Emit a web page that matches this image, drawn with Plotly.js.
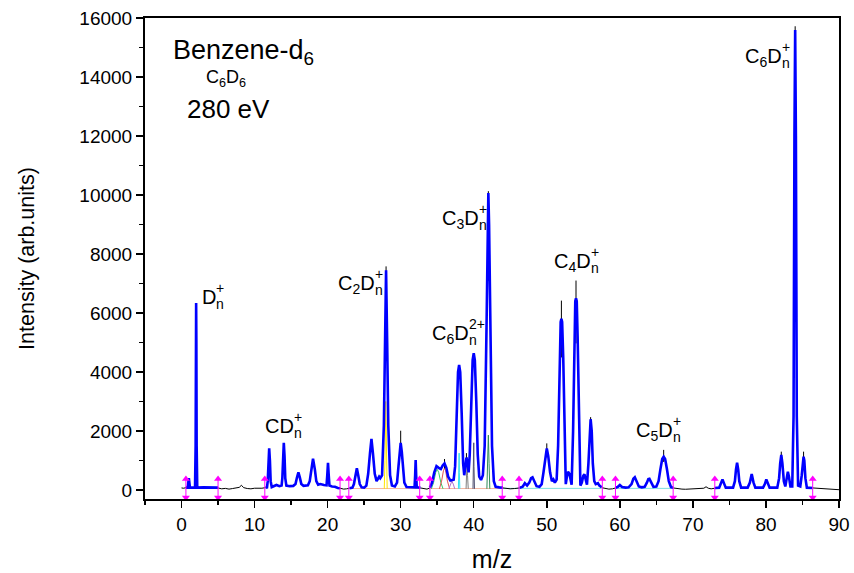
<!DOCTYPE html>
<html><head><meta charset="utf-8">
<script src="https://cdn.plot.ly/plotly-3.0.1.min.js"></script>
<style>html,body{margin:0;padding:0;background:#fff;} #chart{width:854px;height:573px;}</style>
</head><body><div id="chart"></div>
<script>
// ---- Fitted spectrum (blue), one pair of arrays per fit window ----
const fitMz1 = [0.6, 0.85, 0.95, 1.0, 1.05, 1.15, 1.85, 1.93, 1.97, 2.0, 2.03, 2.07, 2.15, 3.0, 4.0, 5.0];
const fitI1  = [80, 80, 300, 400, 300, 80, 80, 1500, 5000, 6340, 5000, 1500, 80, 90, 80, 80];

const fitMz2 = [11.5, 11.7, 11.8, 11.9, 12.0, 12.1, 12.2, 12.35, 12.6, 13.0, 13.4, 13.7, 13.8, 13.9, 14.0, 14.1, 14.2, 14.35, 14.8, 15.3, 15.6, 15.8, 16.0, 16.2, 16.4, 16.7, 17.0, 17.3, 17.55, 17.75, 18.0, 18.25, 18.45, 18.7, 19.0, 19.5, 19.85, 19.95, 20.05, 20.15, 20.25, 20.6, 21.0, 21.4, 21.7];
const fitI2  = [80, 90, 300, 1000, 1410, 1000, 300, 100, 120, 170, 130, 150, 400, 1150, 1600, 1150, 400, 150, 130, 140, 200, 420, 600, 420, 200, 140, 150, 160, 300, 700, 1060, 700, 300, 180, 200, 170, 160, 500, 925, 500, 150, 120, 110, 70, 60];

const fitMz3 = [23.0, 23.4, 23.6, 23.8, 24.0, 24.2, 24.4, 24.65, 25.0, 25.3, 25.55, 25.8, 26.0, 26.2, 26.45, 26.7, 26.9, 27.05, 27.2, 27.45, 27.7, 27.85, 28.0, 28.15, 28.3, 28.55, 28.8, 29.2, 29.5, 29.7, 29.85, 30.0, 30.15, 30.3, 30.5, 30.8, 31.2, 31.6, 31.9, 31.98, 32.05, 32.12, 32.2, 32.7];
const fitI3  = [60, 80, 200, 480, 735, 480, 200, 90, 80, 150, 550, 1250, 1730, 1250, 550, 300, 420, 450, 400, 500, 2200, 5000, 7450, 5000, 2200, 500, 150, 120, 250, 800, 1300, 1600, 1300, 800, 250, 100, 90, 80, 90, 500, 1017, 500, 90, 80];

const fitMz4 = [34.0, 34.3, 34.6, 34.9, 35.2, 35.5, 35.75, 36.0, 36.25, 36.5, 36.8, 37.0, 37.25, 37.45, 37.65, 37.85, 38.0, 38.15, 38.35, 38.55, 38.7, 38.85, 39.0, 39.15, 39.3, 39.45, 39.65, 39.85, 40.0, 40.15, 40.35, 40.55, 40.75, 41.0, 41.25, 41.5, 41.75, 41.9, 42.0, 42.1, 42.25, 42.5, 42.75, 43.0, 43.5, 44.0];
const fitI4  = [80, 250, 600, 810, 750, 710, 830, 900, 750, 450, 320, 330, 350, 800, 2600, 4000, 4240, 4000, 2600, 900, 500, 900, 1100, 900, 600, 1200, 3000, 4400, 4640, 4400, 3000, 1200, 450, 340, 500, 1500, 5500, 9000, 10070, 9000, 5500, 1500, 300, 110, 90, 80];

const fitMz5 = [46.3, 46.7, 47.0, 47.3, 47.6, 47.85, 48.05, 48.3, 48.6, 49.0, 49.3, 49.55, 49.8, 50.0, 50.2, 50.45, 50.7, 50.9, 51.1, 51.35, 51.55, 51.75, 51.9, 52.0, 52.1, 52.25, 52.45, 52.6, 52.75, 52.9, 53.1, 53.25, 53.4, 53.6, 53.78, 53.9, 54.0, 54.1, 54.22, 54.4, 54.6, 54.8, 55.0, 55.15, 55.3, 55.5, 55.7, 55.85, 56.0, 56.15, 56.3, 56.5, 56.7, 57.0, 57.2, 57.5];
const fitI5  = [80, 110, 230, 150, 250, 400, 430, 300, 130, 110, 200, 600, 1150, 1410, 1150, 600, 300, 360, 250, 350, 1500, 4500, 5700, 5800, 5700, 4500, 1500, 200, 450, 620, 550, 300, 180, 2000, 5200, 6400, 6500, 6400, 5200, 2000, 150, 250, 480, 530, 350, 180, 900, 2000, 2400, 2000, 900, 300, 200, 230, 150, 90];

const fitMz6 = [59.4, 59.7, 60.0, 60.3, 60.8, 61.2, 61.6, 61.85, 62.05, 62.3, 62.6, 63.0, 63.4, 63.7, 63.9, 64.05, 64.3, 64.6, 65.0, 65.3, 65.55, 65.8, 66.0, 66.2, 66.45, 66.7, 67.0, 67.3];
const fitI6  = [80, 100, 170, 100, 80, 90, 200, 380, 430, 300, 120, 90, 110, 250, 370, 380, 250, 110, 120, 300, 700, 1050, 1130, 1050, 700, 300, 100, 80];

const fitMz7 = [73.0, 73.6, 73.8, 74.05, 74.3, 74.5, 75.5, 75.75, 75.9, 76.05, 76.2, 76.35, 76.6, 77.5, 77.8, 78.05, 78.3, 78.55, 79.6, 79.85, 80.05, 80.3, 80.5, 81.55, 81.8, 81.95, 82.1, 82.25, 82.45, 82.65, 82.85, 83.0, 83.15, 83.35, 83.6, 83.78, 83.9, 84.0, 84.1, 84.22, 84.4, 84.7, 84.9, 85.05, 85.15, 85.25, 85.4, 85.6, 86.4];
const fitI7  = [70, 80, 200, 360, 200, 80, 80, 300, 700, 925, 700, 300, 80, 80, 250, 540, 250, 80, 80, 200, 360, 200, 80, 80, 400, 900, 1186, 900, 300, 120, 450, 620, 450, 120, 120, 2500, 12000, 15590, 12000, 2500, 150, 120, 500, 1000, 1130, 1000, 400, 80, 70];

// ---- Raw data (thin black): baseline outside the fit windows, and peak tips above the fit ----
const rawBaseMz = [0, 0.3, 0.6, null, 5.0, 5.5, 6.0, 6.5, 7.0, 7.5, 7.9, 8.2, 8.5, 9.0, 9.5, 10.0, 10.5, 11.0, 11.5, null, 21.7, 22.2, 22.6, 23.0, null, 32.7, 33.2, 33.6, 34.0, null, 44.0, 44.5, 45.0, 45.6, 46.3, null, 57.5, 58.0, 58.5, 59.0, 59.4, null, 67.3, 68.0, 68.5, 69.0, 69.5, 70.0, 70.5, 71.0, 71.5, 71.8, 72.1, 72.5, 73.0, null, 86.4, 87.0, 87.5, 88.0, 88.5, 89.0, 89.5, 90.0];
const rawBaseI  = [70, 60, 80, null, 70, 40, 55, 30, 50, 60, 90, 160, 80, 50, 40, 60, 50, 60, 80, null, 60, 30, 40, 60, null, 70, 40, 30, 70, null, 70, 50, 40, 50, 70, null, 80, 50, 30, 40, 70, null, 70, 40, 30, 25, 35, 20, 30, 40, 60, 110, 60, 40, 60, null, 70, 60, 45, 50, 35, 30, 20, 10];
const rawTipMz = [28.0, 30.0, 36.0, 39.0, 42.0, 50.0, 52.0, 54.0, 56.0, 66.0, 82.1, 84.0, 85.15];
const rawTipI  = [7580, 2010, 1050, 1250, 10130, 1580, 6420, 7100, 2470, 1360, 1300, 15720, 1300];

// ---- Fit window limits (magenta double arrows) ----
const windowMz = [0.6, 5.0, 11.4, 21.7, 22.9, 32.6, 34.0, 43.9, 46.2, 57.6, 59.4, 67.3, 73.0, 86.4];

// ---- Some individual fit components (thin coloured lines) ----
const compYellowMz = [27.75, 27.85, 27.95, 28.05, 28.15]; const compYellowI = [40, 1000, 3000, 1000, 40];
const compGreenMz  = [34.2, 34.5, 34.8, 35.0, 35.2, 35.5, 35.8]; const compGreenI = [40, 250, 600, 700, 600, 250, 40];
const compRedMz    = [35.3, 35.6, 35.85, 36.0, 36.15, 36.4, 36.7]; const compRedI = [40, 300, 650, 750, 650, 300, 40];
const compPurpleMz = [36.6, 36.8, 37.0, 37.2, 37.4]; const compPurpleI = [40, 200, 300, 200, 40];
const compCyanMz   = [37.9, 37.97, 38.0, 38.03, 38.1]; const compCyanI = [40, 600, 1250, 600, 40];
const compGray1Mz  = [38.95, 39.05, 39.1, 39.15, 39.25]; const compGray1I = [40, 500, 1100, 500, 40];
const compGray2Mz  = [39.9, 39.97, 40.0, 40.03, 40.1]; const compGray2I = [40, 800, 1600, 800, 40];
const compDkGreenMz= [41.8, 41.9, 42.0, 42.1, 42.2]; const compDkGreenI = [40, 900, 1860, 900, 40];
const baseOrangeMz = [23.0, 32.7, null, 34.0, 44.0]; const baseOrangeI = [50, 50, null, 50, 50];
const baseTealMz   = [44.0, 57.5, null, 59.4, 67.3]; const baseTealI = [55, 55, null, 55, 55];

// ---- Ion labels ----
const ionPrefix = ['', 'C', 'C<sub>2</sub>', 'C<sub>6</sub>', 'C<sub>3</sub>', 'C<sub>4</sub>', 'C<sub>5</sub>', 'C<sub>6</sub>'];
const ionCharge = ['+', '+', '+', '2+', '+', '+', '+', '+'];
const ionX = [4.72, 15.4, 26.5, 39.36, 40.7, 56.06, 67.24, 82.16];
const ionY = [6915, 2542, 7390, 5695, 9600, 8136, 2407, 15085];

// ---- build traces ----
function joinSegs(segs) { const out = []; segs.forEach((s, i) => { if (i) out.push(null); out.push(...s); }); return out; }
const fitX = joinSegs([fitMz1, fitMz2, fitMz3, fitMz4, fitMz5, fitMz6, fitMz7]);
const fitY = joinSegs([fitI1, fitI2, fitI3, fitI4, fitI5, fitI6, fitI7]);

const tipX = [], tipY = [];
rawTipMz.forEach((m, i) => { tipX.push(m, m, null); tipY.push(rawTipI[i] * 0.7, rawTipI[i], null); });

const stemLo = -254, stemHi = 370;
const stemX = [], stemY = [];
windowMz.forEach(m => { stemX.push(m, m, null); stemY.push(stemLo, stemHi, null); });

function comp(x, y, color) { return {x, y, type: 'scatter', mode: 'lines', line: {color, width: 1}, hoverinfo: 'skip', connectgaps: false}; }

const traces = [
  comp(baseOrangeMz, baseOrangeI, '#f4b6a0'),
  comp(baseTealMz, baseTealI, '#7fe0e0'),
  comp(compYellowMz, compYellowI, '#ffe600'),
  comp(compGreenMz, compGreenI, '#33cc66'),
  comp(compRedMz, compRedI, '#e05050'),
  comp(compPurpleMz, compPurpleI, '#b070d0'),
  comp(compCyanMz, compCyanI, '#30e0f0'),
  comp(compGray1Mz, compGray1I, '#808080'),
  comp(compGray2Mz, compGray2I, '#505070'),
  comp(compDkGreenMz, compDkGreenI, '#2e8b57'),
  {x: rawBaseMz, y: rawBaseI, type: 'scatter', mode: 'lines', line: {color: '#000', width: 1}, connectgaps: false},
  {x: tipX, y: tipY, type: 'scatter', mode: 'lines', line: {color: '#000', width: 1}, connectgaps: false},
  {x: fitX, y: fitY, type: 'scatter', mode: 'lines', line: {color: '#0000ff', width: 2.6}, connectgaps: false},
  {x: stemX, y: stemY, type: 'scatter', mode: 'lines', line: {color: '#ff00ff', width: 1}, connectgaps: false, cliponaxis: false},
  {x: windowMz, y: windowMz.map(() => stemHi), type: 'scatter', mode: 'markers', marker: {symbol: 'triangle-up', size: 7, color: '#ff00ff'}, cliponaxis: false},
  {x: windowMz, y: windowMz.map(() => stemLo), type: 'scatter', mode: 'markers', marker: {symbol: 'triangle-down', size: 7, color: '#ff00ff'}, cliponaxis: false}
];

const FONT = 'Liberation Sans, Arial, sans-serif';
const annotations = [];
ionX.forEach((x, i) => {
  const y = ionY[i];
  annotations.push({x, y, xref: 'x', yref: 'y', text: ionPrefix[i] + 'D', showarrow: false, xanchor: 'right', yanchor: 'top', borderpad: 0, borderwidth: 0, font: {size: 20, color: '#000', family: FONT}});
  annotations.push({x, y, xref: 'x', yref: 'y', text: 'n', showarrow: false, xanchor: 'left', yanchor: 'top', yshift: -10, borderpad: 0, borderwidth: 0, font: {size: 14, color: '#000', family: FONT}});
  annotations.push({x, y, xref: 'x', yref: 'y', text: ionCharge[i], showarrow: false, xanchor: 'left', yanchor: 'top', yshift: 6, borderpad: 0, borderwidth: 0, font: {size: 14, color: '#000', family: FONT}});
});
annotations.push({x: -1.16, y: 15434, xref: 'x', yref: 'y', text: 'Benzene-d<sub>6</sub>', showarrow: false, xanchor: 'left', yanchor: 'top', borderpad: 0, borderwidth: 0, font: {size: 27, color: '#000', family: FONT}});
annotations.push({x: 3.35, y: 14340, xref: 'x', yref: 'y', text: 'C<sub>6</sub>D<sub>6</sub>', showarrow: false, xanchor: 'left', yanchor: 'top', borderpad: 0, borderwidth: 0, font: {size: 18, color: '#000', family: FONT}});
annotations.push({x: 0.75, y: 13430, xref: 'x', yref: 'y', text: '280 eV', showarrow: false, xanchor: 'left', yanchor: 'top', borderpad: 0, borderwidth: 0, font: {size: 26, color: '#000', family: FONT}});

const axisCommon = {
  showline: true, linewidth: 2, linecolor: '#000', mirror: true,
  ticks: 'outside', ticklen: 7, tickwidth: 1.5, tickcolor: '#000',
  showgrid: false, zeroline: false, tickformat: 'd',
  tickfont: {size: 19, color: '#000', family: FONT}
};

const layout = {
  width: 854, height: 573,
  margin: {l: 145, r: 15, t: 18, b: 74},
  paper_bgcolor: '#fff', plot_bgcolor: '#fff',
  showlegend: false,
  font: {family: FONT, color: '#000'},
  xaxis: Object.assign({}, axisCommon, {
    range: [-5, 90], tick0: 0, dtick: 10,
    minor: {dtick: 5, ticks: 'outside', ticklen: 4, tickwidth: 1.5, tickcolor: '#000', showgrid: false},
    title: {text: 'm/z', font: {size: 25, color: '#000', family: FONT}, standoff: 23}
  }),
  yaxis: Object.assign({}, axisCommon, {
    range: [-305, 16000], tick0: 0, dtick: 2000,
    minor: {dtick: 1000, ticks: 'outside', ticklen: 4, tickwidth: 1.5, tickcolor: '#000', showgrid: false},
    title: {text: 'Intensity (arb.units)', font: {size: 21.5, color: '#000', family: FONT}, standoff: 39}
  }),
  annotations
};

Plotly.newPlot('chart', traces, layout, {displayModeBar: false, staticPlot: true});
</script></body></html>
